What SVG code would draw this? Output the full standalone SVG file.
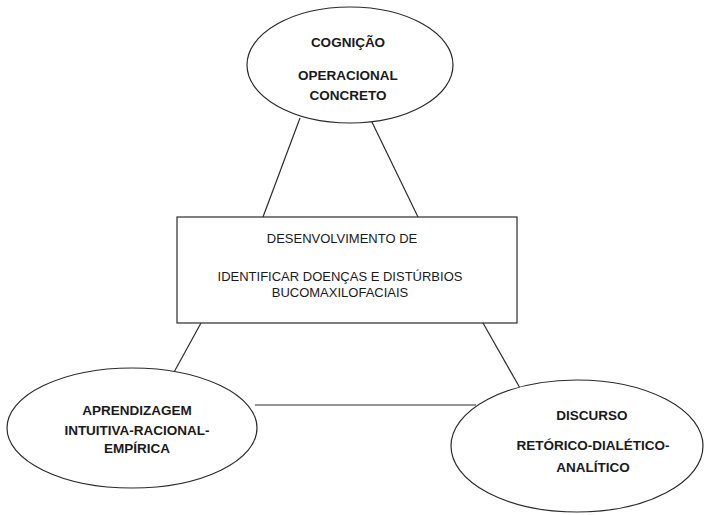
<svg xmlns="http://www.w3.org/2000/svg" width="705" height="515" viewBox="0 0 705 515">
<style>
.shape{fill:#fff;stroke:#2b2b2b;stroke-width:1.2}
.conn{stroke:#2b2b2b;stroke-width:1.2;fill:none}
text{font-family:"Liberation Sans",Arial,sans-serif;font-size:13px;fill:#1a1a1a;text-anchor:middle}
.b{font-weight:bold;font-size:13.5px}
</style>
<rect width="705" height="515" fill="#fff"/>
<g id="connectors">
<line class="conn" x1="300" y1="118" x2="263" y2="217"/>
<line class="conn" x1="370" y1="118" x2="418" y2="217"/>
<line class="conn" x1="201" y1="323" x2="173" y2="374"/>
<line class="conn" x1="483" y1="323" x2="520" y2="388"/>
<line class="conn" x1="255" y1="405" x2="476" y2="405"/>
</g>
<g id="cognicao">
<ellipse class="shape" cx="350" cy="65" rx="103" ry="58"/>
<text class="b" x="348" y="47">COGNIÇÃO</text>
<text class="b" x="348" y="80">OPERACIONAL</text>
<text class="b" x="348" y="100">CONCRETO</text>
</g>
<g id="desenvolvimento">
<rect class="shape" x="177" y="217" width="340" height="106"/>
<text x="342" y="243">DESENVOLVIMENTO DE</text>
<text x="340" y="281">IDENTIFICAR DOENÇAS E DISTÚRBIOS</text>
<text x="340" y="297">BUCOMAXILOFACIAIS</text>
</g>
<g id="aprendizagem">
<ellipse class="shape" cx="132" cy="428" rx="125" ry="60"/>
<text class="b" x="137" y="415">APRENDIZAGEM</text>
<text class="b" x="137" y="435">INTUITIVA-RACIONAL-</text>
<text class="b" x="137" y="453">EMPÍRICA</text>
</g>
<g id="discurso">
<ellipse class="shape" cx="577" cy="446" rx="126" ry="66"/>
<text class="b" x="592" y="420">DISCURSO</text>
<text class="b" x="593" y="450">RETÓRICO-DIALÉTICO-</text>
<text class="b" x="593" y="472">ANALÍTICO</text>
</g>
</svg>
